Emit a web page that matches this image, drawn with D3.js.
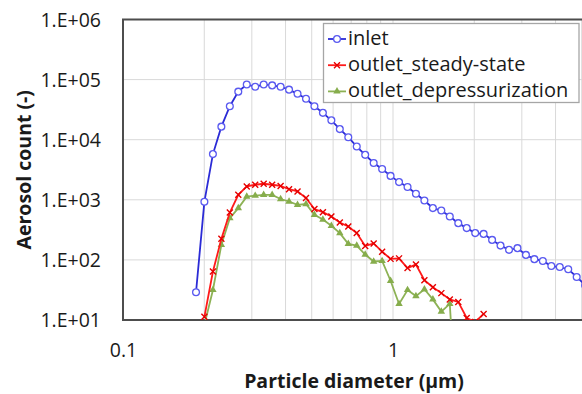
<!DOCTYPE html>
<html>
<head>
<meta charset="utf-8">
<script src="https://cdn.jsdelivr.net/npm/d3@7"></script>
<style>
  body { margin: 0; background: #fff; }
  svg { display: block; font-family: "Open Sans", sans-serif; }
</style>
</head>
<body>
<div id="chart-container"></div>
<script>
// particle diameter channels (um)
const diameters = [0.1864, 0.2002, 0.2153, 0.2314, 0.2487, 0.2673, 0.2873, 0.3088, 0.3319, 0.3568,
    0.3835, 0.4121, 0.4430, 0.4762, 0.5117, 0.5500, 0.5912, 0.6353, 0.6830, 0.7340,
    0.7889, 0.8480, 0.9114, 0.9795, 1.053, 1.132, 1.216, 1.307, 1.405, 1.510,
    1.623, 1.745, 1.875, 2.016, 2.166, 2.328, 2.502, 2.690, 2.891, 3.107,
    3.339, 3.589, 3.858, 4.146, 4.457, 4.790, 5.148];

const inlet = [29, 930, 5760, 16500, 36000, 63000, 83000, 76000, 83000, 80000,
    76000, 68000, 58000, 48000, 36000, 28000, 21000, 15000, 11000, 7700,
    5600, 4100, 3250, 2500, 1970, 1630, 1260, 973, 727, 663,
    527, 409, 338, 279, 271, 215, 173, 147, 157, 121,
    103, 96, 79, 76, 70, 52, 38];

// outlet series start at the second channel
const steadyState = [null, 11.3, 64, 224, 614, 1210, 1670, 1780, 1850, 1780,
    1700, 1500, 1380, 1070, 700, 623, 527, 419, 359, 279,
    171, 188, 137, 104, 106, 73, 84, 46, 35, 28,
    22, 20, 10.8, 9.3, 12.6];

const depressurization = [null, 8.3, 31.6, 178, 495, 727, 1130, 1170, 1210, 1210,
    1030, 937, 826, 851, 562, 470, 369, 279, 185, 173,
    123, 94, 96, 45, 18.5, 31.6, 25, 32.5, 22, 13.8,
    18.5, 0.1];

const seriesNames = ["inlet", "outlet_steady-state", "outlet_depressurization"];
const yTicks = [1e1, 1e2, 1e3, 1e4, 1e5, 1e6];
const xTicks = [0.1, 1];

const width = 582;
const height = 394;

// plot area (runs past the right edge of the picture)
const plot = { left: 123, top: 19.5, right: 663, bottom: 320 };

const x = d3.scaleLog().domain([0.1, 10]).range([plot.left, plot.right]);
const y = d3.scaleLog().domain([10, 1e6]).range([plot.bottom, plot.top]);

const svg = d3.select("#chart-container")
    .append("svg")
    .attr("width", width)
    .attr("height", height);

svg.append("clipPath")
    .attr("id", "plot-clip")
    .append("rect")
    .attr("x", plot.left)
    .attr("y", plot.top)
    .attr("width", plot.right - plot.left)
    .attr("height", plot.bottom - plot.top);

// minor vertical grid lines
const xGrid = [];
[0.1, 1].forEach(d => { for (let k = 2; k <= 9; k++) xGrid.push(d * k); });
xGrid.push(1);

svg.append("g")
    .attr("stroke", "#d9d9d9")
    .attr("stroke-width", 1)
    .selectAll("line")
    .data(xGrid)
    .join("line")
    .attr("x1", d => x(d)).attr("x2", d => x(d))
    .attr("y1", plot.top).attr("y2", plot.bottom);

svg.append("g")
    .attr("stroke", "#d9d9d9")
    .attr("stroke-width", 1)
    .selectAll("line")
    .data(yTicks.slice(1, -1))
    .join("line")
    .attr("x1", plot.left).attr("x2", width)
    .attr("y1", d => y(d)).attr("y2", d => y(d));

// axes
const yAxis = d3.axisLeft(y)
    .tickValues(yTicks)
    .tickSize(0)
    .tickPadding(22)
    .tickFormat(d => "1.E+" + String(Math.round(Math.log10(d))).padStart(2, "0"));

svg.append("g")
    .attr("transform", `translate(${plot.left},0)`)
    .call(yAxis)
    .call(g => g.select(".domain").remove())
    .call(g => g.selectAll("text")
        .attr("font-family", "Open Sans, sans-serif")
        .attr("font-size", 19.5)
        .attr("fill", "#1a1a1a")
        .attr("dy", "0.34em"));

const xAxis = d3.axisBottom(x)
    .tickValues(xTicks)
    .tickSize(0)
    .tickPadding(23)
    .tickFormat(d3.format("~g"));

svg.append("g")
    .attr("transform", `translate(0,${plot.bottom})`)
    .call(xAxis)
    .call(g => g.select(".domain").remove())
    .call(g => g.selectAll("text")
        .attr("font-family", "Open Sans, sans-serif")
        .attr("font-size", 19.5)
        .attr("fill", "#1a1a1a"));

// plot border
svg.append("path")
    .attr("d", `M${width},${plot.top}H${plot.left}V${plot.bottom}H${width}`)
    .attr("fill", "none")
    .attr("stroke", "#4d4d4d")
    .attr("stroke-width", 2);

// axis titles
svg.append("text")
    .attr("x", 354)
    .attr("y", 388)
    .attr("text-anchor", "middle")
    .attr("font-size", 19.5)
    .attr("font-weight", "bold")
    .attr("fill", "#1a1a1a")
    .text("Particle diameter (µm)");

svg.append("text")
    .attr("transform", `translate(31,${(plot.top + plot.bottom) / 2}) rotate(-90)`)
    .attr("text-anchor", "middle")
    .attr("font-size", 19.5)
    .attr("font-weight", "bold")
    .attr("fill", "#1a1a1a")
    .text("Aerosol count (-)");

// series
const toPoints = values => values
    .map((v, i) => ({ d: diameters[i], v }))
    .filter(p => p.v != null);

const line = d3.line().x(p => x(p.d)).y(p => y(p.v));

const series = [
    { name: seriesNames[0], values: inlet, color: "#2b2bd6", marker: "circle", markColor: "#5a5af0" },
    { name: seriesNames[1], values: steadyState, color: "#ff1a1a", marker: "cross", markColor: "#e60000" },
    { name: seriesNames[2], values: depressurization, color: "#8db255", marker: "triangle", markColor: "#86ad4c" },
];

const drawMarker = (sel, s) => {
    if (s.marker === "circle") {
        sel.append("circle").attr("r", 3.4)
            .attr("fill", "#fff").attr("stroke", s.markColor).attr("stroke-width", 1.3);
    } else if (s.marker === "cross") {
        sel.append("path").attr("d", "M-3,-3L3,3M-3,3L3,-3")
            .attr("stroke", s.markColor).attr("stroke-width", 1.4);
    } else {
        sel.append("path").attr("d", d3.symbol(d3.symbolTriangle, 24)())
            .attr("fill", s.markColor);
    }
};

const plotArea = svg.append("g").attr("clip-path", "url(#plot-clip)");

series.slice().reverse().forEach(s => {
    const pts = toPoints(s.values);
    plotArea.append("path")
        .datum(pts)
        .attr("fill", "none")
        .attr("stroke", s.color)
        .attr("stroke-width", 1.8)
        .attr("d", line);
    plotArea.append("g")
        .selectAll("g")
        .data(pts)
        .join("g")
        .attr("transform", p => `translate(${x(p.d)},${y(p.v)})`)
        .each(function () { drawMarker(d3.select(this), s); });
});

// legend
const legend = svg.append("g");
legend.append("rect")
    .attr("x", 323.5).attr("y", 23.5)
    .attr("width", 255.5).attr("height", 79)
    .attr("fill", "#fff")
    .attr("stroke", "#a6a6a6")
    .attr("stroke-width", 1.3);

series.forEach((s, i) => {
    const rowY = 39 + i * 26.2;
    const row = legend.append("g");
    row.append("line")
        .attr("x1", 328).attr("x2", 346)
        .attr("y1", rowY).attr("y2", rowY)
        .attr("stroke", s.color).attr("stroke-width", 1.8);
    row.append("g")
        .attr("transform", `translate(337,${rowY})`)
        .call(g => drawMarker(g, s));
    row.append("text")
        .attr("x", 348)
        .attr("y", rowY + 6)
        .attr("font-size", 20)
        .attr("fill", "#1a1a1a")
        .text(s.name);
});
</script>
</body>
</html>
